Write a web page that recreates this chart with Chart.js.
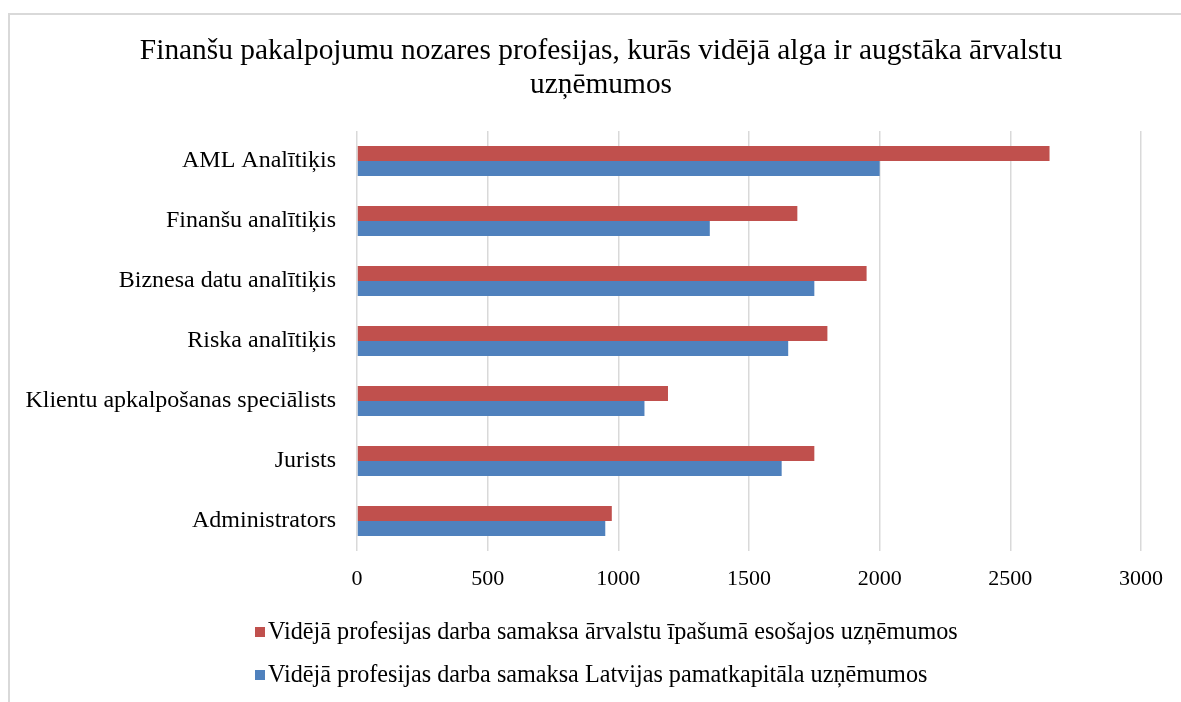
<!DOCTYPE html>
<html>
<head>
<meta charset="utf-8">
<script src="https://cdn.jsdelivr.net/npm/chart.js@4/dist/chart.umd.min.js"></script>
<style>
  html, body { margin: 0; padding: 0; background: #fff; }
  #wrap { position: absolute; left: 0; top: 0; width: 1181px; height: 702px; overflow: hidden; }
  #frame { position: absolute; left: 8px; top: 13px; width: 1200px; height: 720px;
           border-left: 2px solid #d9d9d9; border-top: 2px solid #d9d9d9; }
  canvas { position: absolute; left: 0; top: 0; }
</style>
</head>
<body>
<div id="wrap">
  <div id="frame"></div>
  <canvas id="c" width="1181" height="702"></canvas>
</div>
<script>
const titleLines = ["Finanšu pakalpojumu nozares profesijas, kurās vidējā alga ir augstāka ārvalstu", "uzņēmumos"];
const categories = ["AML Analītiķis", "Finanšu analītiķis", "Biznesa datu analītiķis", "Riska analītiķis", "Klientu apkalpošanas speciālists", "Jurists", "Administrators"];
const foreignLabel = "Vidējā profesijas darba samaksa ārvalstu īpašumā esošajos uzņēmumos";
const latvianLabel = "Vidējā profesijas darba samaksa Latvijas pamatkapitāla uzņēmumos";
const foreignValues = [2650, 1685, 1950, 1800, 1190, 1750, 975];
const latvianValues = [2000, 1350, 1750, 1650, 1100, 1625, 950];
const xMin = 0, xMax = 3000, xStep = 500;

const serif = "'Liberation Serif', 'Times New Roman', serif";

const customLegend = {
  id: 'customLegend',
  afterDraw(chart) {
    const ctx = chart.ctx;
    ctx.save();
    ctx.font = "24.2px " + serif;
    ctx.textBaseline = 'middle';
    ctx.textAlign = 'left';
    const rows = [632, 675];
    chart.data.datasets.forEach((ds, i) => {
      const y = rows[i];
      ctx.fillStyle = ds.backgroundColor;
      ctx.fillRect(255, y - 5, 10, 10);
      ctx.fillStyle = '#000';
      ctx.fillText(ds.label, 268, y + 1);
    });
    ctx.restore();
  }
};

new Chart(document.getElementById('c'), {
  type: 'bar',
  data: {
    labels: categories,
    datasets: [
      { label: foreignLabel, data: foreignValues, backgroundColor: '#C0504D', borderWidth: 0,
        barPercentage: 1.0, categoryPercentage: 0.5 },
      { label: latvianLabel, data: latvianValues, backgroundColor: '#4F81BD', borderWidth: 0,
        barPercentage: 1.0, categoryPercentage: 0.5 }
    ]
  },
  options: {
    indexAxis: 'y',
    responsive: false,
    animation: false,
    layout: { padding: { left: 21, right: 0, top: 0, bottom: 111 } },
    plugins: {
      legend: { display: false },
      tooltip: { enabled: false },
      title: {
        display: true,
        text: titleLines,
        color: '#000',
        font: { family: serif, size: 29.4, weight: 'normal', lineHeight: 1.14 },
        padding: { top: 35, bottom: 29 }
      }
    },
    scales: {
      x: {
        min: xMin, max: xMax,
        grid: { color: '#d9d9d9', lineWidth: 1.5, drawTicks: false },
        border: { display: false },
        ticks: { stepSize: xStep, color: '#000', padding: 15, font: { family: serif, size: 22 },
                 callback: (v) => String(v) },
        afterFit(s) { s.height = 40; s.paddingRight = 40; }
      },
      y: {
        grid: { display: false, drawTicks: false },
        border: { display: false },
        ticks: { color: '#000', padding: 21, font: { family: serif, size: 24 } },
        afterFit(s) { s.width = 336; }
      }
    }
  },
  plugins: [customLegend]
});
</script>
</body>
</html>
